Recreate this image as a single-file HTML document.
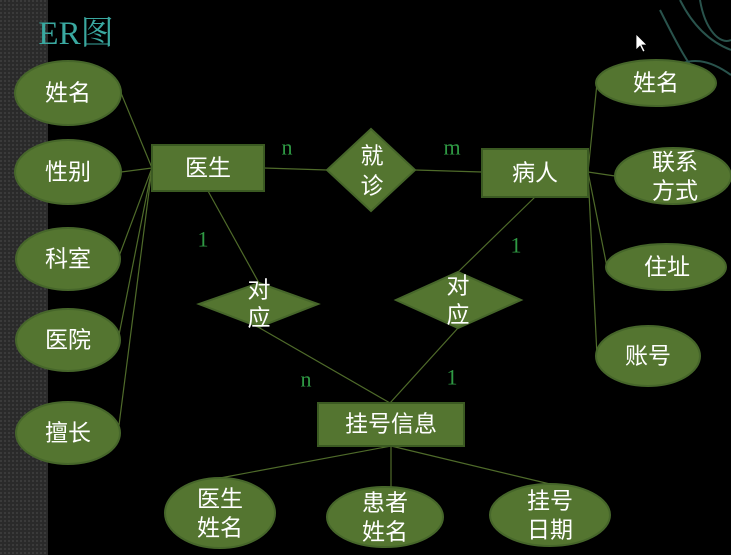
<!DOCTYPE html>
<html><head><meta charset="utf-8"><style>
html,body{margin:0;padding:0;background:#000;width:731px;height:555px;overflow:hidden}
svg{display:block}
text{font-family:"Liberation Serif","Noto Sans CJK SC",sans-serif;fill:#fff;font-size:23px;text-anchor:middle;dominant-baseline:central}
.l{fill:#2f9a44;font-family:"Liberation Serif",serif;font-size:22px}
</style></head><body>
<svg width="731" height="555" viewBox="0 0 731 555">
<defs><pattern id="p" width="4" height="4" patternUnits="userSpaceOnUse"><rect width="4" height="4" fill="#2a2a2a"/><rect width="2" height="2" fill="#3a3a3a"/></pattern></defs>
<rect x="0" y="0" width="48" height="555" fill="url(#p)"/>
<g stroke="#2e5c55" fill="none" stroke-width="2" opacity="0.9">
<path d="M680 0 C690 20 705 40 731 50"/><path d="M700 0 C705 30 720 45 731 40"/><path d="M660 10 C675 40 690 70 710 90"/><path d="M670 70 C690 55 710 60 731 75"/>
</g>
<text x="76" y="34" style="fill:#3aa8a0;font-size:33px;font-family:'Liberation Serif','Noto Serif CJK SC',serif">ER图</text>
<g stroke="#4f6b2a" stroke-width="1.2">
<line x1="121" y1="93" x2="152" y2="168"/><line x1="121" y1="172" x2="152" y2="168"/><line x1="118" y1="259" x2="152" y2="168"/><line x1="118" y1="340" x2="152" y2="168"/><line x1="118" y1="433" x2="152" y2="168"/>
<line x1="264" y1="168" x2="327" y2="170"/><line x1="415" y1="170" x2="482" y2="172"/>
<line x1="588" y1="172" x2="597" y2="83"/><line x1="588" y1="172" x2="615" y2="176"/><line x1="588" y1="172" x2="607" y2="267"/><line x1="588" y1="172" x2="597" y2="356"/>
<line x1="208" y1="191" x2="259" y2="283"/><line x1="258" y1="327" x2="390" y2="403"/>
<line x1="535" y1="197" x2="458" y2="272"/><line x1="458" y1="328" x2="390" y2="403"/>
<line x1="391" y1="446" x2="220" y2="478"/><line x1="391" y1="446" x2="391" y2="487"/><line x1="391" y1="446" x2="550" y2="484"/>
</g>
<g fill="#547530" stroke="#46662a" stroke-width="2">
<ellipse cx="68" cy="93" rx="53" ry="32"/><ellipse cx="68" cy="172" rx="53" ry="32"/><ellipse cx="68" cy="259" rx="52" ry="31"/><ellipse cx="68" cy="340" rx="52" ry="31"/><ellipse cx="68" cy="433" rx="52" ry="31"/>
<ellipse cx="656" cy="83" rx="60" ry="23"/><ellipse cx="673" cy="176" rx="58" ry="28"/><ellipse cx="666" cy="267" rx="60" ry="23"/><ellipse cx="648" cy="356" rx="52" ry="30"/>
<ellipse cx="220" cy="513" rx="55" ry="35"/><ellipse cx="385" cy="517" rx="58" ry="30"/><ellipse cx="550" cy="515" rx="60" ry="31"/>
<rect x="152" y="145" width="112" height="46" stroke="#3b5a22"/><rect x="482" y="149" width="106" height="48" stroke="#3b5a22"/><rect x="318" y="403" width="146" height="43" stroke="#3b5a22"/>
<polygon points="371,129 415,170 371,211 327,170"/>
<polygon points="259,283 318,304 259,327 199,304"/>
<polygon points="458,272 521,300 458,328 396,300"/>
</g>
<text x="68" y="93">姓名</text><text x="68" y="172">性别</text><text x="68" y="259">科室</text><text x="68" y="340">医院</text><text x="68" y="433">擅长</text>
<text x="208" y="168">医生</text><text x="535" y="173">病人</text><text x="391" y="424">挂号信息</text>
<text x="372" y="156">就</text><text x="372" y="186">诊</text>
<text x="259" y="290">对</text><text x="259" y="318">应</text>
<text x="458" y="286">对</text><text x="458" y="315">应</text>
<text x="656" y="83">姓名</text><text x="675" y="162">联系</text><text x="675" y="191">方式</text><text x="667" y="267">住址</text><text x="648" y="356">账号</text>
<text x="220" y="499">医生</text><text x="220" y="528">姓名</text><text x="385" y="503">患者</text><text x="385" y="532">姓名</text><text x="550" y="501">挂号</text><text x="550" y="530">日期</text>
<text class="l" x="287" y="147">n</text><text class="l" x="452" y="147">m</text><text class="l" x="203" y="239">1</text><text class="l" x="516" y="245">1</text><text class="l" x="306" y="379">n</text><text class="l" x="452" y="377">1</text>
<path d="M636 34 L636 50 L640 46 L643 52 L645 51 L642 45 L647 45 Z" fill="#fff" stroke="#000" stroke-width="0.8"/>
</svg>
</body></html>
